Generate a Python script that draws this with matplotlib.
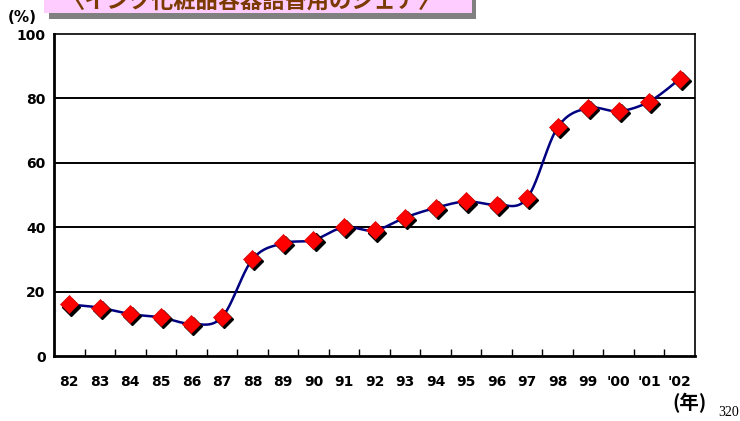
import numpy as np
import matplotlib.pyplot as plt
from matplotlib.patches import Rectangle
import matplotlib.transforms as mtransforms

years = ["82", "83", "84", "85", "86", "87", "88", "89", "90", "91", "92",
         "93", "94", "95", "96", "97", "98", "99", "'00", "'01", "'02"]
share = [16, 15, 13, 12, 10, 12, 30, 35, 36, 40, 39,
         43, 46, 48, 47, 49, 71, 77, 76, 79, 86]
y_ticks = [0, 20, 40, 60, 80, 100]
title = "〈インク化粧品容器詰替用のシェア〉"

W, H = 740, 421
fig = plt.figure(figsize=(W / 100, H / 100), dpi=100)


def px(x0, y0, x1, y1):
    # pixel box (top-left origin) -> figure fraction rect
    return [x0 / W, 1 - y1 / H, (x1 - x0) / W, (y1 - y0) / H]


# title banner (cut off at the top of the slide)
r = px(49, -5, 476, 19)
fig.patches.append(Rectangle(r[:2], r[2], r[3], transform=fig.transFigure,
                             facecolor="#808080", edgecolor="none"))
r = px(44, -5, 472, 13)
fig.patches.append(Rectangle(r[:2], r[2], r[3], transform=fig.transFigure,
                             facecolor="#ffccff", edgecolor="none"))
fig.text(252 / W, 1 - 8 / H, title, ha="center", va="baseline",
         fontsize=16, fontweight="bold", color="#7a3a00",
         family=["Noto Sans CJK JP", "DejaVu Sans"])

ax = fig.add_axes(px(54, 34, 695, 356))
x = np.arange(len(years))

# smoothed line (Catmull-Rom through the data points)
pts = np.column_stack([x, share]).astype(float)
ext = np.vstack([pts[0], pts, pts[-1]])
curve = []
for i in range(len(pts) - 1):
    p0, p1, p2, p3 = ext[i], ext[i + 1], ext[i + 2], ext[i + 3]
    t = np.linspace(0, 1, 25)[:, None]
    seg = 0.5 * ((2 * p1) + (-p0 + p2) * t + (2 * p0 - 5 * p1 + 4 * p2 - p3) * t ** 2
                 + (-p0 + 3 * p1 - 3 * p2 + p3) * t ** 3)
    curve.append(seg)
curve = np.vstack(curve)
ax.plot(curve[:, 0], curve[:, 1], color="#000080", lw=1.8, zorder=3)

shadow = mtransforms.offset_copy(ax.transData, fig=fig, x=1.5, y=-1.5, units="points")
ax.plot(x, share, ls="none", marker="D", ms=9, color="black", mec="black",
        transform=shadow, zorder=4)
ax.plot(x, share, ls="none", marker="D", ms=9, color="#ff0000", mec="#dd0000",
        mew=0.5, zorder=5)

ax.set_xlim(-0.5, len(years) - 0.5)
ax.set_ylim(0, 100)
ax.set_yticks(y_ticks)
ax.set_yticklabels([str(v) for v in y_ticks], fontsize=10, fontweight="bold")
for v in y_ticks[1:-1]:
    ax.axhline(v, color="black", lw=1.4, zorder=1)

ax.set_xticks(x)
ax.set_xticklabels(years, fontsize=10, fontweight="bold")
ax.set_xticks(np.arange(len(years) - 1) + 0.5, minor=True)
ax.tick_params(axis="x", which="major", length=0, pad=14)
ax.tick_params(axis="x", which="minor", direction="in", length=5, width=1)
ax.tick_params(axis="y", length=0, pad=6)

for s in ["left", "bottom"]:
    ax.spines[s].set_linewidth(2)
for s in ["top", "right"]:
    ax.spines[s].set_linewidth(1.2)

fig.text(22 / W, 1 - 18 / H, "(%)", ha="center", va="center",
         fontsize=11, fontweight="bold")
fig.text(690 / W, 1 - 403 / H, "(年)", ha="center", va="center",
         fontsize=14, fontweight="bold", family=["Noto Sans CJK JP", "DejaVu Sans"])
fig.text(729 / W, 1 - 412 / H, "320", ha="center", va="center",
         fontsize=10, family="Liberation Serif")

fig.savefig("out.png", dpi=100)
